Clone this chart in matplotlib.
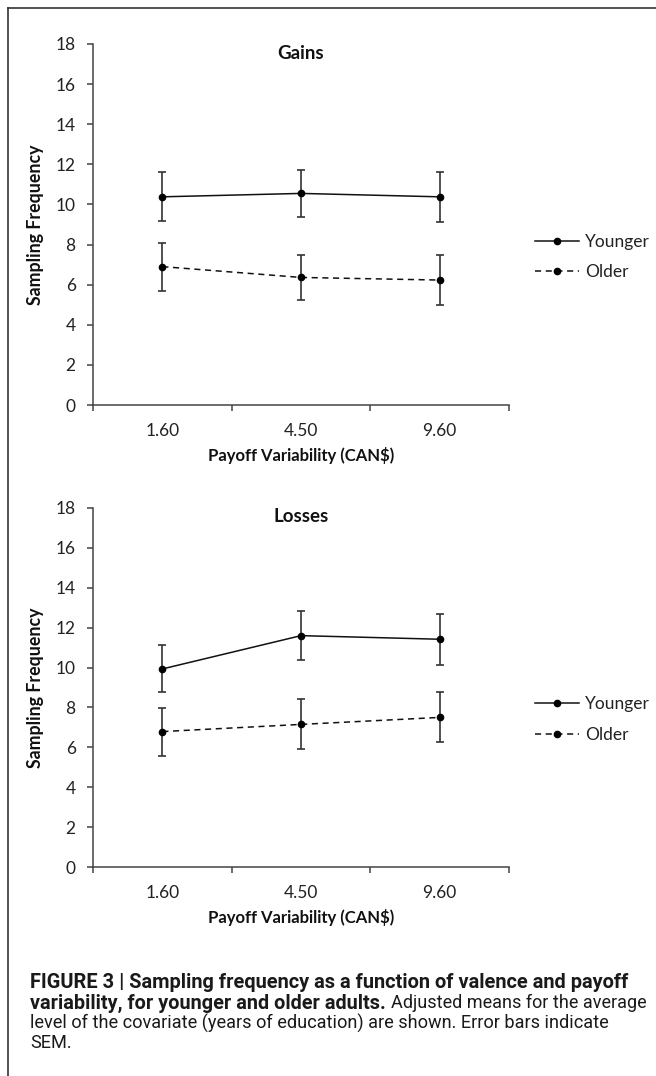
import matplotlib
matplotlib.use("Agg")
import matplotlib.pyplot as plt
from matplotlib.lines import Line2D
from matplotlib.ticker import FixedLocator, NullFormatter

# data
categories = ["1.60", "4.50", "9.60"]
series_names = ["Younger", "Older"]

gains_younger = [10.38, 10.55, 10.38]
gains_younger_sem = [1.23, 1.17, 1.24]
gains_older = [6.9, 6.36, 6.23]
gains_older_sem = [1.2, 1.13, 1.25]

losses_younger = [9.93, 11.6, 11.42]
losses_younger_sem = [1.18, 1.24, 1.28]
losses_older = [6.79, 7.15, 7.5]
losses_older_sem = [1.2, 1.25, 1.25]

W, H = 656, 1076
CHART_FONT = ["Lato", "DejaVu Sans"]
CAPTION_FONT = ["Roboto", "DejaVu Sans"]

fig = plt.figure(figsize=(W / 100, H / 100), dpi=100)


def px_axes(left, top, right, bottom):
    return fig.add_axes([left / W, 1 - bottom / H, (right - left) / W, (bottom - top) / H])


def draw_panel(ax, title, young, young_err, old, old_err):
    x = list(range(len(categories)))
    styles = ["-", (0, (4, 3))]
    for vals, errs, ls in [(young, young_err, styles[0]), (old, old_err, styles[1])]:
        ax.errorbar(x, vals, yerr=errs, color="#111111", lw=1.1, ls=ls,
                    marker="o", ms=4.5, mfc="black", mec="black",
                    ecolor="#333333", elinewidth=1.2, capsize=3, capthick=1.2)
    ax.set_xlim(-0.5, len(categories) - 0.5)
    ax.set_ylim(0, 18)
    ax.set_yticks(range(0, 19, 2))
    ax.xaxis.set_major_locator(FixedLocator([-0.5, 0.5, 1.5, 2.5]))
    ax.xaxis.set_major_formatter(NullFormatter())
    ax.xaxis.set_minor_locator(FixedLocator(x))
    ax.set_xticklabels(categories, minor=True)
    for s in ["top", "right"]:
        ax.spines[s].set_visible(False)
    for s in ["left", "bottom"]:
        ax.spines[s].set_color("#444444")
        ax.spines[s].set_linewidth(1.1)
    ax.tick_params(axis="y", length=4.5, width=1.1, color="#444444", pad=8,
                   labelsize=12.5, labelcolor="#222222")
    ax.tick_params(axis="x", which="major", length=4.5, width=1.1, color="#444444")
    ax.tick_params(axis="x", which="minor", length=0, pad=13, labelsize=12.5,
                   labelcolor="#222222")
    for lab in ax.get_yticklabels() + ax.get_xticklabels(minor=True):
        lab.set_family(CHART_FONT)
    ax.set_ylabel("Sampling Frequency", fontsize=12.8, fontweight="bold",
                  family=CHART_FONT, labelpad=8, color="#111111")
    ax.set_xlabel("Payoff Variability (CAN$)", fontsize=12, fontweight="bold",
                  family=CHART_FONT, labelpad=6, color="#111111")
    ax.text(0.5, 0.975, title, transform=ax.transAxes, ha="center", va="center",
            fontsize=13.5, fontweight="bold", family=CHART_FONT, color="#111111")
    handles = [Line2D([], [], color="#111111", lw=1.1, ls=ls, marker="o", ms=4.5,
                      mfc="black", mec="black") for ls in styles]
    leg = ax.legend(handles, series_names, loc="center left",
                    bbox_to_anchor=(1.063, 0.41), frameon=False,
                    handlelength=2.5, handletextpad=0.35, labelspacing=0.85,
                    borderpad=0, borderaxespad=0,
                    prop={"family": CHART_FONT, "size": 12.5})
    for t in leg.get_texts():
        t.set_color("#222222")


ax1 = px_axes(93, 44, 509, 405)
draw_panel(ax1, "Gains", gains_younger, gains_younger_sem, gains_older, gains_older_sem)

ax2 = px_axes(93, 508, 509, 867)
draw_panel(ax2, "Losses", losses_younger, losses_younger_sem, losses_older, losses_older_sem)

# frame (left and top edges only)
fig.add_artist(Line2D([8 / W, 8 / W], [0, 1 - 8 / H], color="#333333", lw=1.2))
fig.add_artist(Line2D([8 / W, 1], [1 - 8 / H, 1 - 8 / H], color="#333333", lw=1.2))

# caption: each line sized so it spans about as far as in the original
renderer = fig.canvas.get_renderer()
cap_left = 30


def width_px(t):
    return t.get_window_extent(renderer=renderer).width


def fit(t, target):
    t.set_fontsize(t.get_fontsize() * target / width_px(t))


cap_kw = dict(fontsize=14, family=CAPTION_FONT, va="center", color="#1a1a1a")
line1 = fig.text(cap_left / W, 1 - 982 / H,
                 "FIGURE 3 | Sampling frequency as a function of valence and payoff",
                 fontweight="bold", **cap_kw)
fit(line1, 630 - cap_left)
bold_size = line1.get_fontsize()

line3 = fig.text(cap_left / W, 1 - 1023 / H,
                 "level of the covariate (years of education) are shown. Error bars indicate",
                 **cap_kw)
fit(line3, 610 - cap_left)
reg_size = line3.get_fontsize()

cap_kw["fontsize"] = reg_size
fig.text(cap_left / W, 1 - 1043 / H, "SEM.", **cap_kw)

l2a = fig.text(cap_left / W, 1 - 1003 / H, "variability, for younger and older adults. ",
               fontweight="bold", family=CAPTION_FONT, fontsize=bold_size,
               va="center", color="#1a1a1a")
l2b = fig.text(0, 1 - 1003 / H, "Adjusted means for the average", **cap_kw)
total = width_px(l2a) + width_px(l2b)
if total > 646 - cap_left:
    k = (646 - cap_left) / total
    l2a.set_fontsize(bold_size * k)
    l2b.set_fontsize(reg_size * k)
l2b.set_x((cap_left + width_px(l2a)) / W)

fig.savefig("out.png", dpi=100)
